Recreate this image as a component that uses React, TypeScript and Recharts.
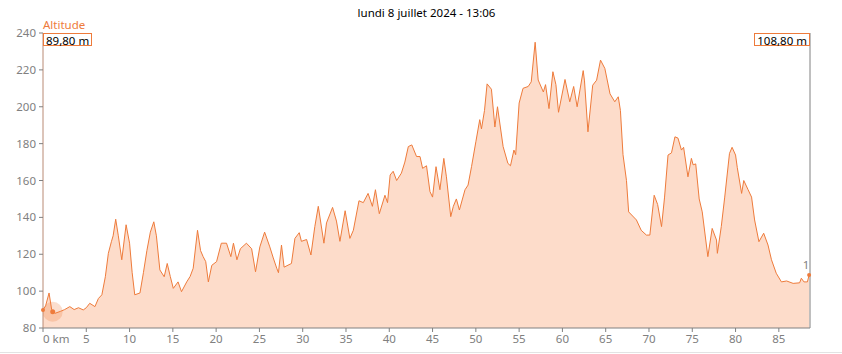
import React from 'react';
import {
  AreaChart,
  Area,
  XAxis,
  YAxis,
  ReferenceDot,
} from 'recharts';

// distance (km) and altitude (m)
const distanceKm = [
  0, 0.3, 0.7, 1.0, 1.4, 2.0, 2.5, 3.1, 3.6, 4.1, 4.65, 5.0, 5.4, 6.0, 6.4, 6.8,
  7.2, 7.55, 7.9, 8.1, 8.4, 8.7, 9.1, 9.6, 10.0, 10.3, 10.6, 11.2, 11.6, 12.0,
  12.4, 12.8, 13.1, 13.5, 14.0, 14.35, 14.7, 15.05, 15.6, 16.0, 16.6, 17.0,
  17.35, 17.85, 18.2, 18.5, 18.8, 19.1, 19.5, 20.05, 20.6, 21.2, 21.7, 22.0,
  22.4, 22.8, 23.5, 24.1, 24.55, 25.05, 25.6, 26.2, 26.6, 27.0, 27.2, 27.55,
  27.85, 28.7, 29.1, 29.6, 29.85, 30.45, 30.95, 31.4, 31.8, 32.45, 32.75, 33.45,
  33.9, 34.3, 34.9, 35.45, 35.85, 36.5, 37.0, 37.55, 38.05, 38.4, 38.85, 39.5,
  39.8, 40.1, 40.45, 40.85, 41.4, 41.8, 42.2, 42.6, 43.15, 43.55, 43.85, 44.3,
  44.7, 45.0, 45.4, 45.85, 46.3, 46.6, 47.1, 47.4, 47.75, 48.1, 48.75, 49.1,
  49.5, 50.0, 50.45, 50.65, 51.0, 51.3, 51.8, 52.2, 52.5, 53.15, 53.7, 54.0,
  54.4, 54.6, 55.0, 55.45, 56.05, 56.4, 56.85, 57.2, 57.8, 58.05, 58.45, 58.9,
  59.25, 59.55, 60.3, 60.85, 61.3, 61.7, 62.4, 62.55, 62.95, 63.5, 63.95, 64.4,
  64.9, 65.5, 66.05, 66.45, 66.7, 67.0, 67.4, 67.65, 68.55, 69.1, 69.7, 70.1,
  70.6, 71.0, 71.45, 71.8, 72.2, 72.6, 73.0, 73.35, 73.75, 74.0, 74.5, 74.9,
  75.1, 75.4, 75.8, 76.15, 76.8, 77.3, 77.8, 77.9, 78.35, 78.75, 79.3, 79.6,
  80.0, 80.2, 80.7, 80.95, 81.45, 81.85, 82.2, 82.7, 83.25, 83.75, 84.15, 84.7,
  85.3, 85.9, 86.65, 87.4, 87.6, 87.9, 88.3, 88.5,
];

const altitudeM = [
  89.8, 92, 99, 90, 88, 89, 90, 91.6, 90, 91, 89.8, 91, 93.4, 91.6, 96, 98,
  107.8, 120.5, 126.8, 130, 139, 130, 117, 136, 126, 110, 98, 99, 110, 122,
  132, 137.6, 130, 111.5, 107.8, 115, 108, 101.5, 105, 99.7, 105, 108,
  112.4, 133, 122, 118.7, 116, 105, 114, 116, 126, 126, 118.7, 126,
  117, 123, 126, 123, 110.5, 124, 132, 124, 118, 112.4, 110, 125,
  113, 115, 128.6, 131.7, 127, 128, 119.6, 135, 146, 126, 137, 145.4,
  138, 127, 143.6, 128.6, 133, 149, 148, 153, 146, 155, 142, 152,
  148, 163, 165, 160, 164, 170, 178.4, 179.3, 173, 173, 166.6, 168,
  154, 151, 167.5, 155, 172, 162, 140.4, 146, 150, 144, 155, 157.5,
  167.5, 181, 193, 188, 198, 212.4, 209.5, 189, 200, 178.4, 169.3, 168,
  176.5, 174, 202, 210, 211, 213.5, 235, 214.5, 208, 212, 199, 219,
  212, 197, 214.8, 202.7, 211, 200, 219.6, 214, 186.4, 211.7, 214.4, 225.3,
  220.8, 207, 202.7, 205.4, 198, 174, 160, 143, 138.6, 133, 130.4, 130.4,
  152, 147, 135, 151, 173.8, 175, 183.7, 183, 176.5, 178, 162, 172,
  168.5, 169, 150, 143, 118.7, 134, 127.7, 120.5, 135, 151, 174.7, 178,
  173.8, 167, 153, 160, 155, 151, 138.6, 126.8, 131.4, 125, 117, 109.7,
  105, 105.5, 104.2, 104.5, 107, 105, 105, 108.8,
];

const kmTicks = [0, 5, 10, 15, 20, 25, 30, 35, 40, 45, 50, 55, 60, 65, 70, 75, 80, 85];
const altTicks = [80, 100, 120, 140, 160, 180, 200, 220, 240];

const title = 'lundi 8 juillet 2024 - 13:06';
const seriesName = 'Altitude';
const startLabel = '89,80 m';
const endLabel = '108,80 m';
const markerKm = 1.12;
const markerAlt = 88.8;

const data = distanceKm.map((km, i) => ({ km, alt: altitudeM[i] }));

const FONT = '"Noto Sans", "Open Sans", sans-serif';
const ORANGE = '#EE7B3B';
const GRAY = '#808080';

const KmTick = (props: any) => {
  const { x, y, payload } = props;
  const first = payload.value === 0;
  return (
    <text
      x={first ? x : x}
      y={y + 9}
      textAnchor={first ? 'start' : 'middle'}
      fill={GRAY}
      fontSize={11.5}
      fontFamily={FONT}
    >
      {first ? '0 km' : payload.value}
    </text>
  );
};

const boxStyle: React.CSSProperties = {
  position: 'absolute',
  top: 33,
  height: 13,
  border: `1px solid ${ORANGE}`,
  background: '#fff',
  fontSize: 11.5,
  lineHeight: '13px',
  padding: '0 2px',
  color: '#000',
  fontFamily: FONT,
  boxSizing: 'border-box',
  whiteSpace: 'nowrap',
};

export default function App() {
  return (
    <div style={{ position: 'absolute', left: 0, top: 0, width: 842, height: 354, background: '#fff', fontFamily: FONT }}>
      <div
        style={{
          position: 'absolute',
          left: 43,
          width: 767,
          top: 5,
          textAlign: 'center',
          fontSize: 11.5,
          color: '#000',
        }}
      >
        {title}
      </div>
      <AreaChart
        width={842}
        height={354}
        data={data}
        margin={{ top: 33, right: 0, bottom: 6, left: 0 }}
      >
        <XAxis
          dataKey="km"
          type="number"
          domain={[0, 88.6]}
          ticks={kmTicks}
          interval={0}
          height={20}
          stroke={GRAY}
          tickSize={4}
          tick={<KmTick />}
        />
        <YAxis
          yAxisId="left"
          domain={[80, 240]}
          ticks={altTicks}
          interval={0}
          width={43}
          tickSize={4}
          tickMargin={3}
          axisLine={{ stroke: '#b98a74' }}
          tickLine={{ stroke: GRAY }}
          tick={{ fill: GRAY, fontSize: 11.5, fontFamily: FONT }}
        />
        <YAxis
          yAxisId="right"
          orientation="right"
          domain={[80, 240]}
          ticks={altTicks}
          interval={0}
          width={32}
          tickSize={4}
          tickMargin={3}
          stroke={GRAY}
          tick={{ fill: GRAY, fontSize: 11.5, fontFamily: FONT }}
        />
        <Area
          yAxisId="left"
          type="linear"
          dataKey="alt"
          stroke={ORANGE}
          strokeWidth={1}
          fill="#FDDCCA"
          fillOpacity={1}
          isAnimationActive={false}
          dot={false}
          activeDot={false}
        />
        <ReferenceDot
          yAxisId="left"
          x={markerKm}
          y={markerAlt}
          r={10}
          fill={ORANGE}
          fillOpacity={0.25}
          stroke="none"
        />
        <ReferenceDot
          yAxisId="left"
          x={markerKm}
          y={markerAlt}
          r={2.5}
          fill={ORANGE}
          stroke="none"
        />
        <ReferenceDot
          yAxisId="left"
          x={distanceKm[0]}
          y={altitudeM[0]}
          r={2}
          fill={ORANGE}
          stroke="none"
        />
        <ReferenceDot
          yAxisId="left"
          x={distanceKm[distanceKm.length - 1]}
          y={altitudeM[altitudeM.length - 1]}
          r={2}
          fill={ORANGE}
          stroke="none"
          label={{ value: '1', position: 'top', offset: 4, dx: -3, fill: GRAY, fontSize: 11.5, fontFamily: FONT }}
        />
      </AreaChart>
      <div style={{ position: 'absolute', left: 43, top: 17, fontSize: 11.5, color: ORANGE }}>{seriesName}</div>
      <div style={{ ...boxStyle, left: 43 }}>{startLabel}</div>
      <div style={{ ...boxStyle, right: 842 - 810 }}>{endLabel}</div>
      <div style={{ position: 'absolute', left: 0, top: 352, width: 842, height: 1, background: '#e3e3e3' }} />
    </div>
  );
}
